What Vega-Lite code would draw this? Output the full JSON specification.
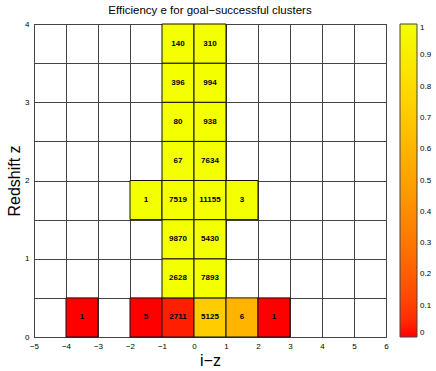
{
  "$schema": "https://vega.github.io/schema/vega-lite/v6.json",
  "autosize": "none",
  "width": 352,
  "height": 313,
  "padding": {"left": 34, "top": 24, "right": 50, "bottom": 34},
  "background": "white",
  "config": {
    "font": "Liberation Sans",
    "view": {"stroke": "#000", "strokeWidth": 1}
  },
  "title": {
    "text": "Efficiency e for goal\u2212successful clusters",
    "fontSize": 11.5,
    "fontWeight": "normal",
    "color": "#000",
    "offset": 4
  },
  "data": {
    "values": [
      {"x": -4, "y": 0, "count": 1, "eff": 0.0},
      {"x": -2, "y": 0, "count": 5, "eff": 0.0},
      {"x": -1, "y": 0, "count": 2711, "eff": 0.03},
      {"x": 0, "y": 0, "count": 5125, "eff": 0.72},
      {"x": 1, "y": 0, "count": 6, "eff": 0.6},
      {"x": 2, "y": 0, "count": 1, "eff": 0.0},
      {"x": -1, "y": 0.5, "count": 2628, "eff": 1.0},
      {"x": 0, "y": 0.5, "count": 7893, "eff": 1.0},
      {"x": -1, "y": 1, "count": 9870, "eff": 1.0},
      {"x": 0, "y": 1, "count": 5430, "eff": 1.0},
      {"x": -2, "y": 1.5, "count": 1, "eff": 1.0},
      {"x": -1, "y": 1.5, "count": 7519, "eff": 1.0},
      {"x": 0, "y": 1.5, "count": 11155, "eff": 1.0},
      {"x": 1, "y": 1.5, "count": 3, "eff": 1.0},
      {"x": -1, "y": 2, "count": 67, "eff": 1.0},
      {"x": 0, "y": 2, "count": 7634, "eff": 1.0},
      {"x": -1, "y": 2.5, "count": 80, "eff": 1.0},
      {"x": 0, "y": 2.5, "count": 938, "eff": 1.0},
      {"x": -1, "y": 3, "count": 396, "eff": 1.0},
      {"x": 0, "y": 3, "count": 994, "eff": 1.0},
      {"x": -1, "y": 3.5, "count": 140, "eff": 1.0},
      {"x": 0, "y": 3.5, "count": 310, "eff": 1.0}
    ]
  },
  "transform": [
    {"calculate": "datum.x + 1", "as": "x2"},
    {"calculate": "datum.y + 0.5", "as": "y2"},
    {"calculate": "datum.x + 0.5", "as": "xc"},
    {"calculate": "datum.y + 0.25", "as": "yc"}
  ],
  "layer": [
    {
      "mark": {"type": "rect", "stroke": "#111", "strokeWidth": 1},
      "encoding": {
        "x": {
          "field": "x",
          "type": "quantitative",
          "scale": {"domain": [-5, 6], "nice": false, "zero": false},
          "axis": {
            "values": [-5, -4, -3, -2, -1, 0, 1, 2, 3, 4, 5, 6],
            "tickCount": 30,
            "grid": true,
            "gridColor": "#444",
            "gridOpacity": 1,
            "gridWidth": 1,
            "ticks": false,
            "domain": false,
            "labelOverlap": false,
            "labelBound": false,
            "labelFlush": false,
            "labelFontSize": 8,
            "labelColor": "#000",
            "labelPadding": 5,
            "labelExpr": "replace(format(datum.value, 'd'), '-', '\u2212')",
            "title": "i\u2212z",
            "titleFontSize": 16,
            "titleFontWeight": "normal",
            "titleColor": "#000",
            "titlePadding": 2
          }
        },
        "x2": {"field": "x2"},
        "y": {
          "field": "y",
          "type": "quantitative",
          "scale": {"domain": [0, 4], "nice": false, "zero": false},
          "axis": {
            "values": [0, 0.5, 1, 1.5, 2, 2.5, 3, 3.5, 4],
            "tickCount": 30,
            "labelExpr": "datum.value % 1 === 0 ? format(datum.value, 'd') : ''",
            "grid": true,
            "gridColor": "#444",
            "gridOpacity": 1,
            "gridWidth": 1,
            "ticks": false,
            "domain": false,
            "labelOverlap": false,
            "labelBound": false,
            "labelFlush": false,
            "labelFontSize": 8,
            "labelColor": "#000",
            "labelPadding": 5,
            "title": "Redshift z",
            "titleFontSize": 16,
            "titleFontWeight": "normal",
            "titleColor": "#000",
            "titlePadding": 2
          }
        },
        "y2": {"field": "y2"},
        "color": {
          "field": "eff",
          "type": "quantitative",
          "scale": {"domain": [0, 1], "range": ["#ff0000", "#f4ff00"]},
          "legend": {
            "orient": "none",
            "legendX": 366,
            "legendY": 0,
            "title": null,
            "direction": "vertical",
            "gradientLength": 313,
            "gradientThickness": 17,
            "gradientStrokeColor": "#444",
            "gradientStrokeWidth": 1,
            "values": [0, 0.1, 0.2, 0.3, 0.4, 0.5, 0.6, 0.7, 0.8, 0.9, 1],
            "tickCount": 30,
            "labelExpr": "datum.value === 0 || datum.value === 1 ? format(datum.value, 'd') : format(datum.value, '.1f')",
            "labelFontSize": 8,
            "labelColor": "#000",
            "labelOffset": 3,
            "labelOverlap": false
          }
        }
      }
    },
    {
      "mark": {"type": "text", "fontSize": 8, "fontWeight": "bold", "color": "#000"},
      "encoding": {
        "x": {"field": "xc", "type": "quantitative"},
        "y": {"field": "yc", "type": "quantitative"},
        "text": {"field": "count", "type": "quantitative", "format": "d"}
      }
    }
  ]
}
